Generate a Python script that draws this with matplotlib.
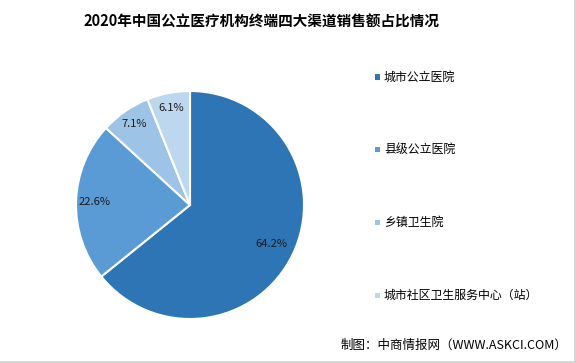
import matplotlib
matplotlib.use("Agg")
import matplotlib.pyplot as plt
import numpy as np

plt.rcParams['font.family'] = ['Noto Sans CJK SC', 'DejaVu Sans']

title = "2020年中国公立医疗机构终端四大渠道销售额占比情况"
categories = ["城市公立医院", "县级公立医院", "乡镇卫生院", "城市社区卫生服务中心（站）"]
values = [64.2, 22.6, 7.1, 6.1]
colors = ["#2E75B6", "#5B9BD5", "#9DC3E6", "#BDD7EE"]
source = "制图：中商情报网（WWW.ASKCI.COM）"
label_r = [0.79, 0.84, 0.86, 0.87]

W, H = 576, 363
fig = plt.figure(figsize=(W/100, H/100), dpi=100)
fig.patch.set_facecolor("white")

r = 114
cx, cy = 190, 205
ax = fig.add_axes([(cx - r)/W, 1 - (cy + r)/H, 2*r/W, 2*r/H])
wedges, _ = ax.pie(values, colors=colors, startangle=90, counterclock=False,
                   radius=1.0, wedgeprops=dict(edgecolor="white", linewidth=1.5))
ax.set_xlim(-1, 1); ax.set_ylim(-1, 1)
ax.set_aspect('auto')
ax.axis('off')
for w, v, lr in zip(wedges, values, label_r):
    ang = np.deg2rad((w.theta1 + w.theta2) / 2)
    ax.text(lr*np.cos(ang), lr*np.sin(ang), f"{v:.1f}%", ha='center', va='center',
            fontsize=8, color="#1a1a1a")

fig.text(261/W, 1 - 22/H, title, ha='center', va='center', fontsize=10.5,
         fontweight='bold', color='black')

leg_y = [77, 149, 222, 295]
for cat, col, y in zip(categories, colors, leg_y):
    fig.patches.append(plt.Rectangle(((375)/W, 1 - (y + 2.5)/H), 5/W, 5/H,
                                     transform=fig.transFigure, facecolor=col,
                                     edgecolor='none'))
    fig.text(384/W, 1 - y/H, cat, ha='left', va='center', fontsize=8.6, color='black')

fig.text(567/W, 1 - 345/H, source, ha='right', va='center', fontsize=9, color='black')

fig.add_artist(plt.Line2D([1 - 1.5/W, 1 - 1.5/W], [0, 1], color="#d0d0d0", lw=1.2,
                          transform=fig.transFigure))
fig.add_artist(plt.Line2D([0, 1], [1.5/H, 1.5/H], color="#d0d0d0", lw=1.2,
                          transform=fig.transFigure))

fig.savefig("out.png", dpi=100, facecolor="white")
